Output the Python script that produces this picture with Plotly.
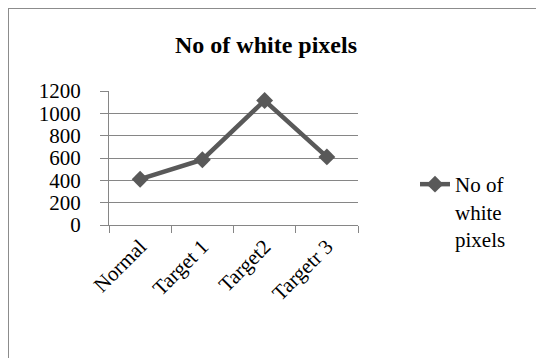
import plotly.graph_objects as go

categories = ["Normal", "Target 1", "Target2", "Targetr 3"]
values = [410, 585, 1115, 610]
y_ticks = [0, 200, 400, 600, 800, 1000, 1200]
series_name = "No of white pixels"

serif = "Liberation Serif, Times New Roman, serif"
line_color = "#595959"
grid_color = "#868686"

OFF = 8  # page body margin
W, H = 544 - OFF, 358 - OFF
L, T = 109 - OFF, 91 - OFF
R = W - (358 - OFF)
B = H - (225 - OFF)
pw, ph = W - L - R, H - T - B

def px_to_paper_x(px):
    return (px - OFF - L) / pw

def px_to_paper_y(py):
    return (H - B - (py - OFF)) / ph

fig = go.Figure()
fig.add_trace(go.Scatter(
    x=categories, y=values, mode="lines+markers",
    name="No of<br>white<br>pixels",
    line=dict(color=line_color, width=4.5),
    marker=dict(symbol="diamond", size=13, color=line_color),
))

fig.add_shape(type="rect", xref="paper", yref="paper",
              x0=px_to_paper_x(8), x1=px_to_paper_x(580),
              y0=px_to_paper_y(400), y1=px_to_paper_y(8),
              line=dict(color="#8c8c8c", width=2), fillcolor="rgba(0,0,0,0)",
              layer="below")

fig.update_layout(
    width=W, height=H,
    margin=dict(l=L, r=R, t=T, b=B),
    paper_bgcolor="white", plot_bgcolor="white",
    font=dict(family=serif, size=21, color="black"),
    title=dict(text="<b>No of white pixels</b>", x=(266 - OFF) / W, xanchor="center",
               y=1 - (45 - OFF) / H, yanchor="middle", font=dict(size=24, family=serif)),
    showlegend=True,
    legend=dict(x=px_to_paper_x(415), xanchor="left", y=px_to_paper_y(164), yanchor="top",
                valign="top", font=dict(size=21, family=serif),
                itemwidth=30, tracegroupgap=0, bgcolor="rgba(0,0,0,0)"),
    xaxis=dict(
        type="category", tickson="boundaries", ticks="outside", ticklen=7,
        tickcolor=grid_color, showline=True, linecolor=grid_color, linewidth=1,
        showgrid=False, tickangle=-45, tickfont=dict(size=21, family=serif),
        range=[-0.5, 3.5],
    ),
    yaxis=dict(
        range=[0, 1200], tickvals=y_ticks, ticks="outside", ticklen=8,
        tickcolor=grid_color, showline=True, linecolor=grid_color, linewidth=1,
        showgrid=True, gridcolor=grid_color, gridwidth=1, zeroline=False,
        tickfont=dict(size=21, family=serif), ticklabelstandoff=15,
    ),
)

fig.write_html("out.html")
